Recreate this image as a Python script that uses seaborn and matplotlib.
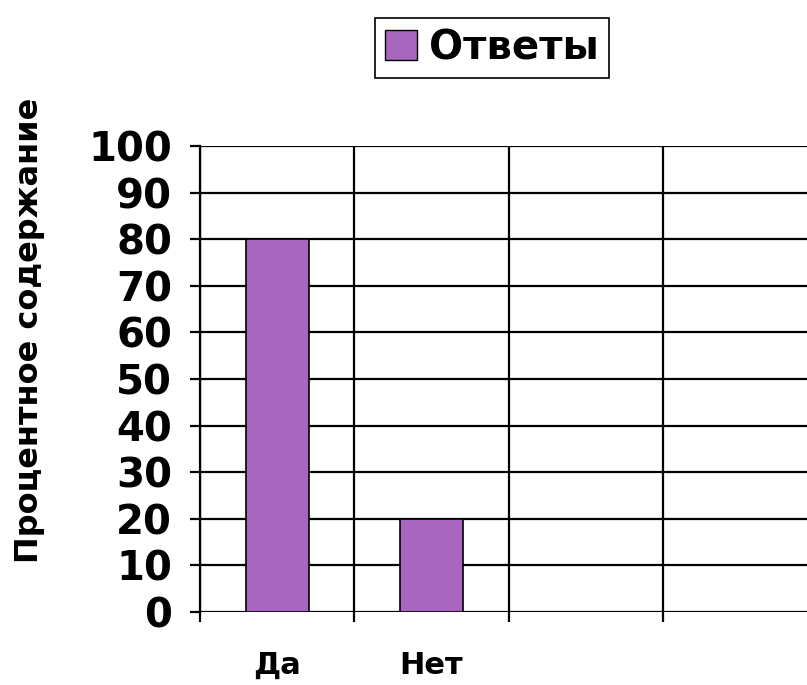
import matplotlib
matplotlib.use("Agg")
import matplotlib.pyplot as plt
import seaborn as sns
import numpy as np
from matplotlib.patches import Patch

categories = ["Да", "Нет", "", " "]
values = [80, 20, np.nan, np.nan]
series_name = "Ответы"
y_ticks = list(range(0, 101, 10))

sns.set_theme(style="white")
plt.rcParams['font.family'] = ['DejaVu Sans']
plt.rcParams['text.color'] = 'black'

bar_color = "#A966BE"

fig = plt.figure(figsize=(8.07, 6.85), dpi=100)
ax = fig.add_axes([200/807, 73/685, 617/807, 466/685])

sns.barplot(x=categories, y=values, color=bar_color, width=0.41,
            edgecolor="black", linewidth=1.2, saturation=1, ax=ax)

ax.set_xlim(-0.5, 3.5)
ax.set_ylim(0, 100)
ax.set_yticks(y_ticks)
ax.set_yticklabels([str(v) for v in y_ticks], fontsize=29, fontweight="bold", color="black")
ax.set_xticks(range(len(categories)))
ax.set_xticklabels(categories, fontsize=22, fontweight="bold", color="black")
ax.set_xticks(np.arange(-0.5, len(categories), 1.0), minor=True)

ax.tick_params(axis="x", which="major", length=0, pad=28, labelcolor="black")
ax.tick_params(axis="x", which="minor", length=7, width=1.6, color="black", bottom=True)
ax.tick_params(axis="y", which="major", length=7, width=1.6, color="black", pad=13,
               left=True, labelcolor="black")

ax.yaxis.grid(True, which="major", color="black", linewidth=1.6)
ax.xaxis.grid(True, which="minor", color="black", linewidth=1.6)
ax.xaxis.grid(False, which="major")
ax.set_axisbelow(True)
for s in ["top", "right", "bottom"]:
    ax.spines[s].set_visible(False)
ax.spines["left"].set_color("black")
ax.spines["left"].set_linewidth(1.6)
ax.set_xlabel("")
ax.set_ylabel("")

fig.text(30/807, 1 - 330/685, "Процентное содержание", rotation=90,
         ha="center", va="center", fontsize=23, fontweight="bold", color="black")

handles = [Patch(facecolor=bar_color, edgecolor="black", linewidth=1.0)]
leg = fig.legend(handles, [series_name], loc="center", bbox_to_anchor=(492/807, 1 - 48/685),
                 prop={"size": 29, "weight": "bold"}, frameon=True, fancybox=False,
                 edgecolor="black", handlelength=0.8, handleheight=0.8, handletextpad=0.3,
                 borderpad=0.25, borderaxespad=0, framealpha=1)
leg.get_frame().set_linewidth(1.2)
for t in leg.get_texts():
    t.set_color("black")

fig.savefig("out.png", dpi=100, facecolor="white")
